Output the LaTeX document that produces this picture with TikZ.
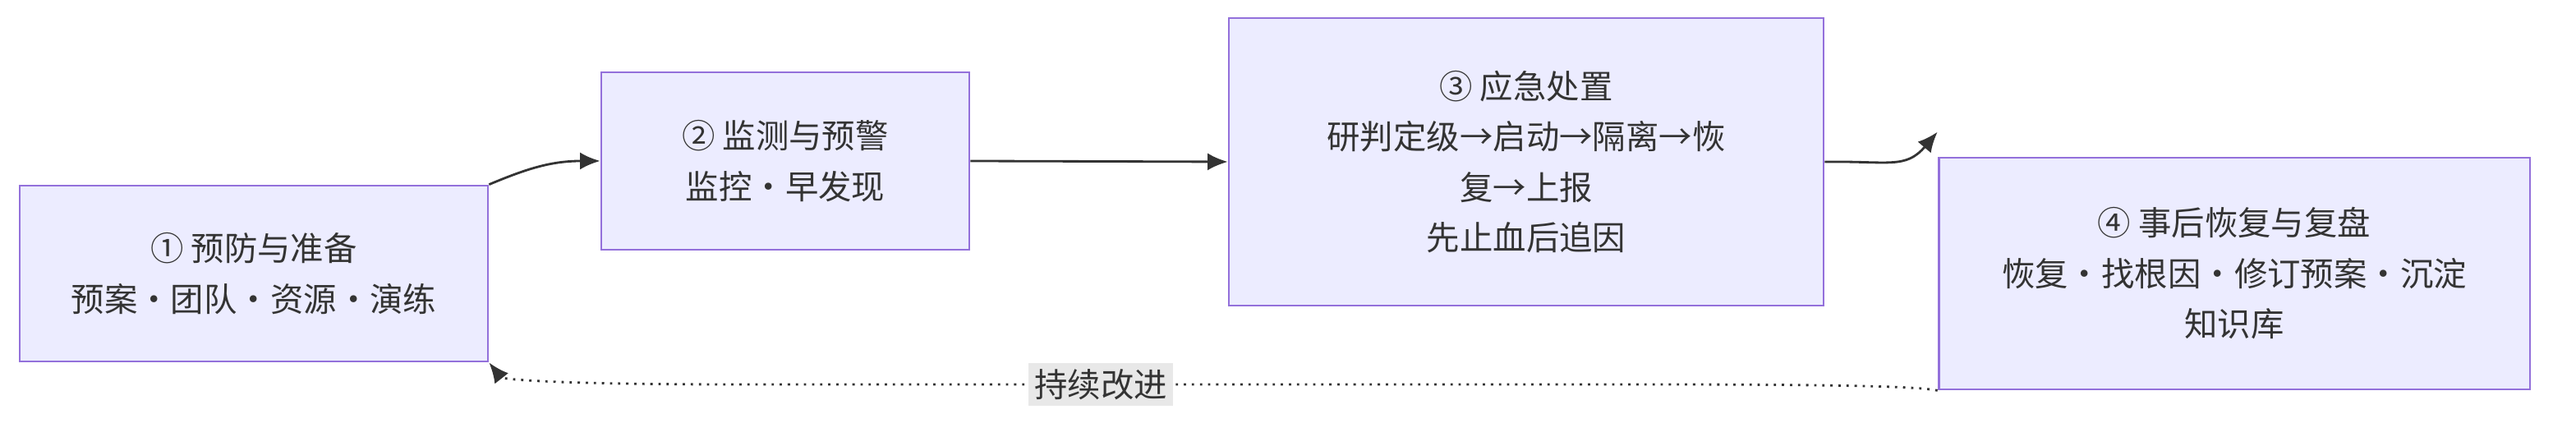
\documentclass[tikz,border=0pt]{standalone}
\usepackage{fontspec}
\setmainfont{Noto Sans CJK SC}
\usetikzlibrary{arrows.meta}
\definecolor{boxfill}{HTML}{ECECFF}
\definecolor{boxline}{HTML}{9370DB}
\definecolor{edge}{HTML}{333333}
\definecolor{lblbg}{HTML}{E8E8E8}
\begin{document}
\begin{tikzpicture}[x=0.02cm,y=0.02cm,
  box/.style={draw=boxline,fill=boxfill,line width=0.8pt,align=center,inner sep=0pt,font=\fontsize{11.5pt}{17.5pt}\selectfont,text=edge},
  arr/.style={draw=edge,line width=0.8pt,-{Latex[length=7pt,width=6pt]}}]
\useasboundingbox (0,0) rectangle (1568,266);
\node[box,minimum width=285\pgflinewidth*0+5.7cm,minimum height=2.14cm] (a) at (154.5,99.5) {① 预防与准备\\预案·团队·资源·演练};
\node[box,minimum width=4.48cm,minimum height=2.16cm] (b) at (478,168) {② 监测与预警\\监控·早发现};
\node[box,minimum width=7.24cm,minimum height=3.5cm] (c) at (929,167.5) {③ 应急处置\\研判定级→启动→隔离→恢\\复→上报\\先止血后追因};
\node[box,minimum width=7.2cm,minimum height=2.82cm] (d) at (1360,99.5) {④ 事后恢复与复盘\\恢复·找根因·修订预案·沉淀\\知识库};
\draw[arr] (a.north east) .. controls (320,163) and (335,168) .. (b.west);
\draw[arr] (b.east) -- (c.west);
\draw[arr] ([yshift=-0.0cm]c.east) .. controls (1150,168) and (1160,163) .. ([yshift=0.3cm]d.north west);
\draw[arr,dotted] (d.south west) .. controls (1170,30) and (1150,32) .. (1000,32) -- (450,32) .. controls (320,32) and (305,36) .. (a.south east);
\node[fill=lblbg,inner sep=2pt,font=\fontsize{11.5pt}{14pt}\selectfont,text=edge] (l) at (670,32) {持续改进};
\end{tikzpicture}
\end{document}
